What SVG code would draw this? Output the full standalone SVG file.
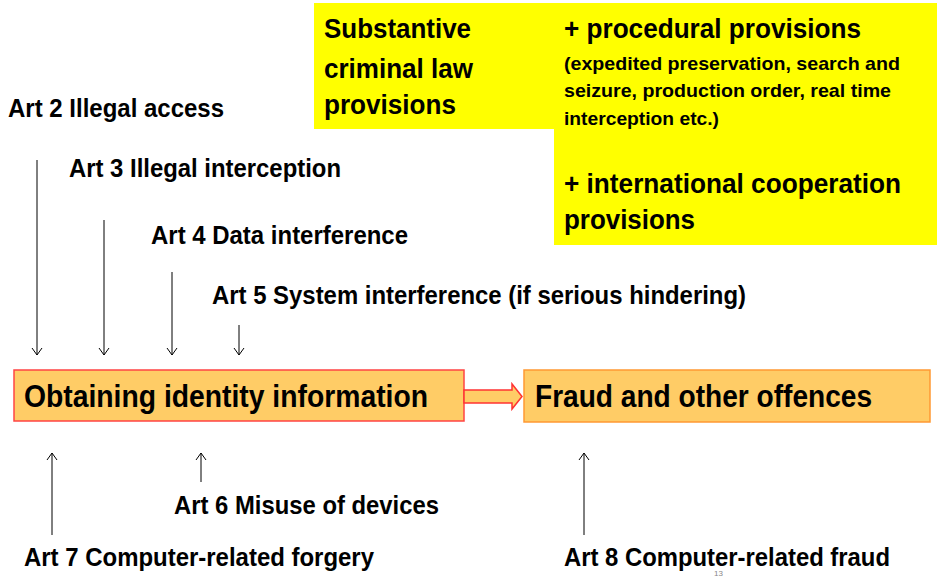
<svg xmlns="http://www.w3.org/2000/svg" width="937" height="578" viewBox="0 0 937 578">
<style>
text{font-family:"Liberation Sans",Arial,sans-serif;font-weight:bold;fill:#000}
.lbl{font-size:25.5px}
.big{font-size:27px}
.sm{font-size:19px}
.box{font-size:31px}
.ln{stroke:#000;stroke-width:1;fill:none}
</style>
<defs>
<marker id="ah" viewBox="0 0 12 12" refX="11" refY="6" markerWidth="12" markerHeight="12" markerUnits="userSpaceOnUse" orient="auto">
<path d="M4,1 L11,6 L4,11" fill="none" stroke="#000" stroke-width="1"/>
</marker>
</defs>
<g id="yellow">
<rect x="314" y="3" width="623" height="126" fill="#FFFF00"/>
<rect x="554" y="3" width="383" height="242" fill="#FFFF00"/>
<text class="big" x="324" y="38" textLength="147" lengthAdjust="spacingAndGlyphs">Substantive</text>
<text class="big" x="324" y="78" textLength="149" lengthAdjust="spacingAndGlyphs">criminal law</text>
<text class="big" x="324" y="114" textLength="132" lengthAdjust="spacingAndGlyphs">provisions</text>
<text class="big" x="564" y="38" textLength="297" lengthAdjust="spacingAndGlyphs">+ procedural provisions</text>
<text class="sm" x="564" y="70" textLength="336" lengthAdjust="spacingAndGlyphs">(expedited preservation, search and</text>
<text class="sm" x="564" y="97" textLength="327" lengthAdjust="spacingAndGlyphs">seizure, production order, real time</text>
<text class="sm" x="564" y="125" textLength="155" lengthAdjust="spacingAndGlyphs">interception etc.)</text>
<text class="big" x="564" y="193" textLength="337" lengthAdjust="spacingAndGlyphs">+ international cooperation</text>
<text class="big" x="564" y="229" textLength="131" lengthAdjust="spacingAndGlyphs">provisions</text>
</g>
<g id="labels-top">
<text class="lbl" x="8" y="117" textLength="216" lengthAdjust="spacingAndGlyphs">Art 2 Illegal access</text>
<text class="lbl" x="69" y="177" textLength="272" lengthAdjust="spacingAndGlyphs">Art 3 Illegal interception</text>
<text class="lbl" x="151" y="244" textLength="257" lengthAdjust="spacingAndGlyphs">Art 4 Data interference</text>
<text class="lbl" x="212" y="304" textLength="534" lengthAdjust="spacingAndGlyphs">Art 5 System interference (if serious hindering)</text>
</g>
<g id="n1">
<rect x="14" y="370" width="450" height="51" fill="#FFCC66" stroke="#FF4444" stroke-width="1.5"/>
<text class="box" x="24" y="407" textLength="404" lengthAdjust="spacingAndGlyphs">Obtaining identity information</text>
</g>
<g id="n2">
<rect x="524" y="370" width="406" height="52" fill="#FFCC66" stroke="#FF9933" stroke-width="1.5"/>
<text class="box" x="535" y="407" textLength="337" lengthAdjust="spacingAndGlyphs">Fraud and other offences</text>
</g>
<g id="connectors">
<path d="M464,390 L512,390 L512,384 L522,396.5 L512,409 L512,403 L464,403 Z" fill="#FFCC66" stroke="#FF3333" stroke-width="1.5"/>
<line class="ln" x1="37" y1="160" x2="37" y2="355" marker-end="url(#ah)"/>
<line class="ln" x1="104" y1="220" x2="104" y2="355" marker-end="url(#ah)"/>
<line class="ln" x1="172" y1="272" x2="172" y2="355" marker-end="url(#ah)"/>
<line class="ln" x1="239" y1="325" x2="239" y2="355" marker-end="url(#ah)"/>
<line class="ln" x1="52" y1="535" x2="52" y2="453" marker-end="url(#ah)"/>
<line class="ln" x1="201" y1="482" x2="201" y2="453" marker-end="url(#ah)"/>
<line class="ln" x1="584" y1="535" x2="584" y2="453" marker-end="url(#ah)"/>
</g>
<g id="labels-bottom">
<text class="lbl" x="174" y="514" textLength="265" lengthAdjust="spacingAndGlyphs">Art 6 Misuse of devices</text>
<text class="lbl" x="24" y="566" textLength="350" lengthAdjust="spacingAndGlyphs">Art 7 Computer-related forgery</text>
<text class="lbl" x="564" y="566" textLength="326" lengthAdjust="spacingAndGlyphs">Art 8 Computer-related fraud</text>
<text x="714" y="576" style="font-size:8px;font-weight:normal;fill:#888">13</text>
</g>
</svg>
